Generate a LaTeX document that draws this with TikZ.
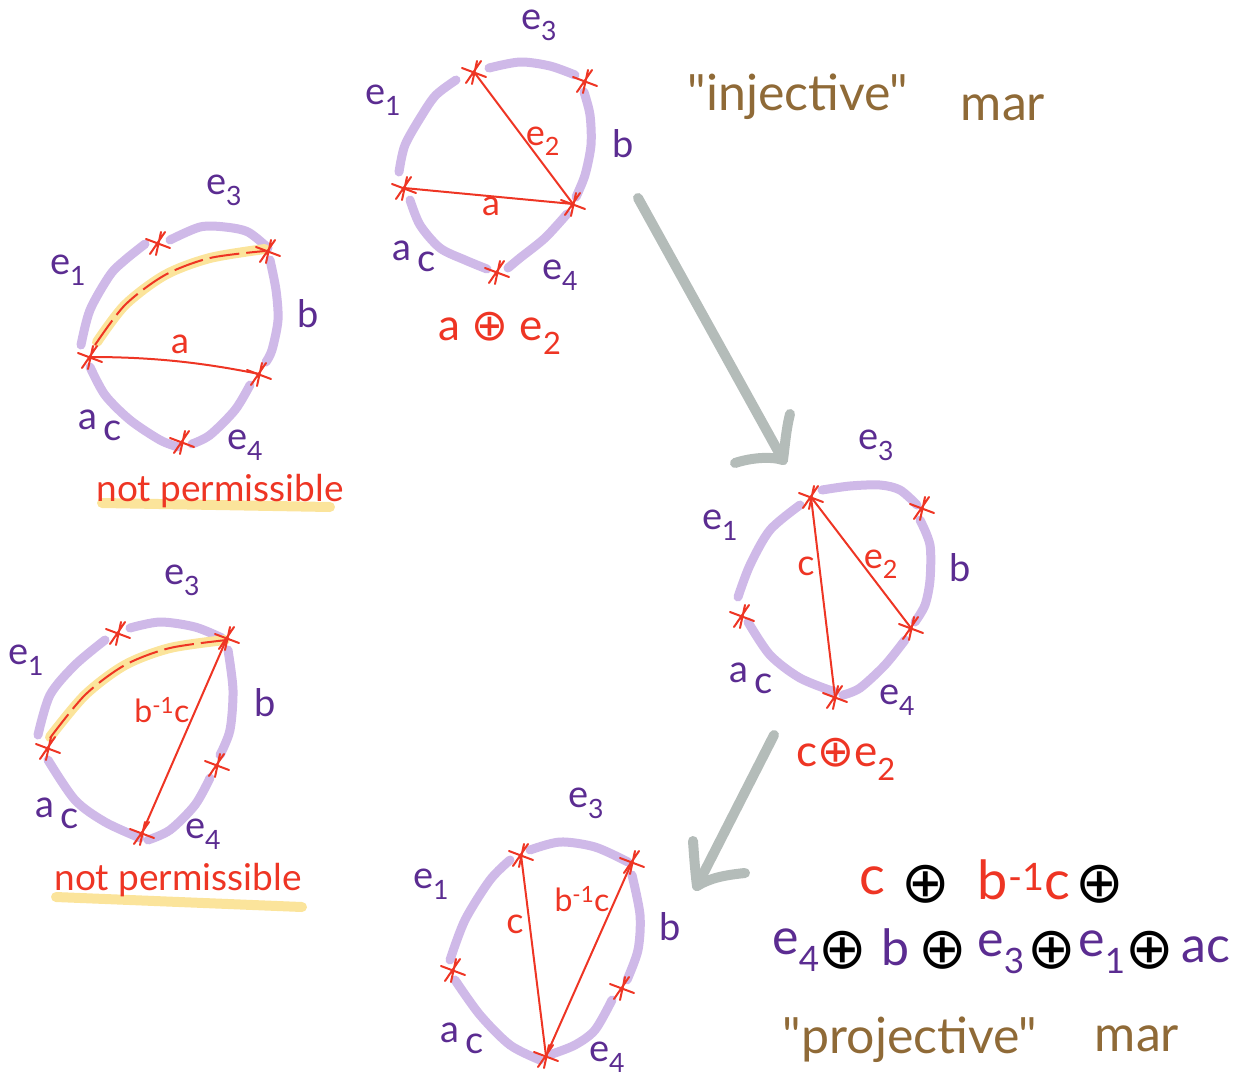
\documentclass[tikz,border=0pt]{standalone}
\usepackage{fontspec}
\setmainfont{Lato}
\newfontfamily\symbfont{DejaVu Sans}
\newfontfamily\markfont{Lato}
\usetikzlibrary{arrows.meta, positioning, calc}
\definecolor{lilac}{HTML}{CFB9E8}
\definecolor{inkred}{HTML}{EE3524}
\definecolor{inkpurple}{HTML}{5B2C91}
\definecolor{marker}{HTML}{FBE49B}
\definecolor{inkbrown}{HTML}{8F6A37}
\definecolor{arrowgray}{HTML}{B4BCB9}
\newcommand{\plusop}{{\symbfont ⊕}}
\newcommand{\fs}[1]{\fontsize{#1}{#1}\selectfont}
\newcommand{\aclabel}{a\,\raisebox{-11pt}{c}}

\begin{document}
\begin{tikzpicture}[
  x=1pt, y=-1pt,
  side/.style={line width=9pt, color=lilac, line cap=round, line join=round},
  chord/.style={line width=2pt, color=inkred},
  hilite/.style={line width=10pt, color=marker, line cap=round},
  flow/.style={line width=10pt, color=arrowgray, line cap=round, line join=round},
  vert/.pic={
    \draw[line width=2pt, color=inkred, line cap=round]
      (-12,-4) -- (12,5) (-8,11) -- (7,-11) (3,-11) -- (-2,12);
  },
  sidelabel/.style={text=inkpurple, font=\fs{38}, inner sep=0pt},
  chordlabel/.style={text=inkred, font=\fs{36}, inner sep=0pt},
  noteline/.style={text=inkred, font=\fs{37}, inner sep=0pt},
  sumline/.style={text=inkred, font=\fs{44}, inner sep=0pt},
  bigred/.style={text=inkred, font=\fs{54}, inner sep=0pt},
  bigpurple/.style={text=inkpurple, font=\fs{50}, inner sep=0pt},
  opsign/.style={text=black, font=\fs{58}, inner sep=0pt},
  mar/.style={text=inkbrown, font=\fs{50}\markfont, inner sep=0pt}
]
\useasboundingbox (0,0) rectangle (1239,1076);

% Top circle
\draw[side] plot[smooth] coordinates {(399,172) (405,145) (422,115) (436,95) (456,80)};
\draw[side] plot[smooth] coordinates {(489,68) (520,62) (550,66) (575,75)};
\draw[side] plot[smooth] coordinates {(584,92) (590,115) (591,145) (585,175) (576,197)};
\draw[side] plot[smooth] coordinates {(567,214) (545,238) (520,258) (508,268)};
\draw[side] plot[smooth] coordinates {(410,200) (420,225) (440,248) (465,260) (487,269)};
\coordinate (topa) at (474,72);
\coordinate (topb) at (585,81);
\coordinate (topc) at (573,204);
\coordinate (topd) at (497,272);
\coordinate (tope) at (404,188);
\foreach \v in {topa,topb,topc,topd,tope} \pic at (\v) {vert};
\draw[chord] (topa) -- (topc);
\draw[chord] (topc) -- (tope);
\node[sidelabel] (tope3) at (539,25) {e\textsubscript{3}};
\node[sidelabel] (tope1) at (383,100) {e\textsubscript{1}};
\node[sidelabel] (topb1) at (623,144) {b};
\node[sidelabel] (topac) at (414,256) {\aclabel};
\node[sidelabel] (tope4) at (560,275) {e\textsubscript{4}};
\node[chordlabel] (tope2) at (543,141) {e\textsubscript{2}};
\node[chordlabel] (topa1) at (491,206) {a};
\node[sumline] (topsum) at (500,333) {a \plusop\ e\textsubscript{2}};

% Upper left circle
\draw[side] plot[smooth] coordinates {(81,345) (90,310) (110,275) (125,260) (145,244)};
\draw[side] plot[smooth] coordinates {(170,240) (200,227) (225,227) (248,232) (268,248)};
\draw[side] plot[smooth] coordinates {(270,260) (276,290) (278,320) (272,350) (266,362)};
\draw[side] plot[smooth] coordinates {(250,385) (235,410) (210,435) (192,444)};
\draw[side] plot[smooth] coordinates {(90,367) (105,395) (130,420) (160,440) (178,447)};
\draw[hilite] plot[smooth] coordinates {(97,342) (125,305) (165,275) (210,258) (265,249)};
\draw[chord, dash pattern=on 30pt off 7pt] plot[smooth] coordinates {(95,345) (125,305) (165,275) (210,258) (265,251)};
\coordinate (upa) at (158,243);
\coordinate (upb) at (268,251);
\coordinate (upc) at (259,374);
\coordinate (upd) at (182,442);
\coordinate (upe) at (90,357);
\foreach \v in {upa,upb,upc,upd,upe} \pic at (\v) {vert};
\draw[chord] (upe) .. controls (150,357) and (200,362) .. (upc);
\node[sidelabel] (upe3) at (224,190) {e\textsubscript{3}};
\node[sidelabel] (upe1) at (68,270) {e\textsubscript{1}};
\node[sidelabel] (upb1) at (308,314) {b};
\node[sidelabel] (upac) at (100,425) {\aclabel};
\node[sidelabel] (upe4) at (245,445) {e\textsubscript{4}};
\node[chordlabel] (upa1) at (180,344) {a};
\draw[hilite] (102,503) -- (330,507);
\node[noteline] (upnote) at (220,491) {not permissible};

% Lower left circle
\draw[side] plot[smooth] coordinates {(38,735) (50,695) (75,665) (105,640)};
\draw[side] plot[smooth] coordinates {(130,628) (160,622) (195,627) (222,638)};
\draw[side] plot[smooth] coordinates {(228,650) (233,690) (230,730) (220,755)};
\draw[side] plot[smooth] coordinates {(210,778) (195,805) (170,830) (148,840)};
\draw[side] plot[smooth] coordinates {(48,760) (75,800) (105,822) (140,838)};
\draw[hilite] plot[smooth] coordinates {(50,737) (85,695) (125,665) (170,648) (225,640)};
\draw[chord, dash pattern=on 30pt off 7pt] plot[smooth] coordinates {(50,738) (85,695) (125,665) (170,648) (227,640)};
\coordinate (lowa) at (118,633);
\coordinate (lowb) at (227,638);
\coordinate (lowc) at (217,765);
\coordinate (lowd) at (142,833);
\coordinate (lowe) at (48,748);
\foreach \v in {lowa,lowb,lowc,lowd,lowe} \pic at (\v) {vert};
\draw[chord] (lowb) -- (lowd);
\node[sidelabel] (lowe3) at (182,580) {e\textsubscript{3}};
\node[sidelabel] (lowe1) at (26,660) {e\textsubscript{1}};
\node[sidelabel] (lowb1) at (265,703) {b};
\node[sidelabel] (lowac) at (57,813) {\aclabel};
\node[sidelabel] (lowe4) at (203,834) {e\textsubscript{4}};
\node[chordlabel, font=\fs{32}] (lowbc) at (162,710) {b\textsuperscript{-1}c};
\draw[hilite] (56,897) -- (302,907);
\node[noteline] (lownote) at (178,880) {not permissible};

% Right circle
\draw[side] plot[smooth] coordinates {(738,597) (750,565) (770,530) (800,505)};
\draw[side] plot[smooth] coordinates {(822,490) (850,486) (880,485) (900,490) (917,505)};
\draw[side] plot[smooth] coordinates {(920,520) (930,545) (930,580) (925,605) (915,622)};
\draw[side] plot[smooth] coordinates {(905,640) (885,665) (860,688) (843,695)};
\draw[side] plot[smooth] coordinates {(748,622) (770,655) (800,678) (835,692)};
\coordinate (rta) at (811,497);
\coordinate (rtb) at (922,508);
\coordinate (rtc) at (911,628);
\coordinate (rtd) at (835,697);
\coordinate (rte) at (742,616);
\foreach \v in {rta,rtb,rtc,rtd,rte} \pic at (\v) {vert};
\draw[chord] (rta) -- (rtc);
\draw[chord] (rta) -- (rtd);
\node[sidelabel] (rte3) at (876,445) {e\textsubscript{3}};
\node[sidelabel] (rte1) at (720,525) {e\textsubscript{1}};
\node[sidelabel] (rtb1) at (960,568) {b};
\node[sidelabel] (rtac) at (751,678) {\aclabel};
\node[sidelabel] (rte4) at (897,700) {e\textsubscript{4}};
\node[chordlabel] (rtc1) at (806,566) {c};
\node[chordlabel] (rte2) at (881,564) {e\textsubscript{2}};
\node[sumline] (rtsum) at (846,759) {c\plusop e\textsubscript{2}};

% Bottom circle
\draw[side] plot[smooth] coordinates {(450,960) (465,920) (490,880) (510,860)};
\draw[side] plot[smooth] coordinates {(530,850) (560,842) (595,847) (628,862)};
\draw[side] plot[smooth] coordinates {(632,875) (640,915) (638,950) (627,980)};
\draw[side] plot[smooth] coordinates {(612,1000) (595,1030) (575,1045) (552,1054)};
\draw[side] plot[smooth] coordinates {(455,980) (480,1015) (510,1045) (540,1060)};
\coordinate (bta) at (521,855);
\coordinate (btb) at (632,862);
\coordinate (btc) at (622,988);
\coordinate (btd) at (546,1056);
\coordinate (bte) at (453,970);
\foreach \v in {bta,btb,btc,btd,bte} \pic at (\v) {vert};
\draw[chord] (bta) -- (btd);
\draw[chord] (btb) -- (btd);
\node[sidelabel] (bte3) at (586,803) {e\textsubscript{3}};
\node[sidelabel] (bte1) at (431,884) {e\textsubscript{1}};
\node[sidelabel] (btb1) at (670,927) {b};
\node[sidelabel] (btac) at (462,1038) {\aclabel};
\node[sidelabel] (bte4) at (607,1057) {e\textsubscript{4}};
\node[chordlabel] (btc1) at (515,924) {c};
\node[chordlabel, font=\fs{32}] (btbc) at (582,899) {b\textsuperscript{-1}c};

% Arrows between circles
\coordinate (flowa) at (638,198);
\coordinate (flowb) at (783,460);
\coordinate (flowc) at (774,735);
\coordinate (flowd) at (697,886);
\draw[flow] (flowa) -- (flowb);
\draw[flow] (735,463) .. controls (750,458) and (770,456) .. (flowb);
\draw[flow] (790,414) .. controls (786,430) and (785,445) .. (flowb);
\draw[flow] (flowc) -- (flowd);
\draw[flow] (693,841) .. controls (694,855) and (695,870) .. (flowd);
\draw[flow] (745,873) .. controls (725,875) and (710,878) .. (flowd);

% Names of the two mars
\node[mar] (inj) at (798,97) {"injective"};
\node[mar] (injmar) at (1003,108) {mar};
\node[mar] (proj) at (910,1040) {"projective"};
\node[mar] (projmar) at (1137,1039) {mar};

% Sum on the right
\node[bigred] (sumc) at (872,881) {c};
\node[opsign] (opa) at (926,884) {\plusop};
\node[bigred] (sumbc) at (1024,880) {b\textsuperscript{-1}c};
\node[opsign] (opb) at (1100,884) {\plusop};
\node[bigpurple] (sume4) at (796,950) {e\textsubscript{4}};
\node[opsign] (opc) at (843,950) {\plusop};
\node[bigpurple] (sumb) at (895,947) {b};
\node[opsign] (opd) at (943,950) {\plusop};
\node[bigpurple] (sume3) at (1001,952) {e\textsubscript{3}};
\node[opsign] (ope) at (1052,950) {\plusop};
\node[bigpurple] (sume1) at (1102,952) {e\textsubscript{1}};
\node[opsign] (opf) at (1150,950) {\plusop};
\node[bigpurple] (sumac) at (1206,950) {ac};

\end{tikzpicture}
\end{document}
